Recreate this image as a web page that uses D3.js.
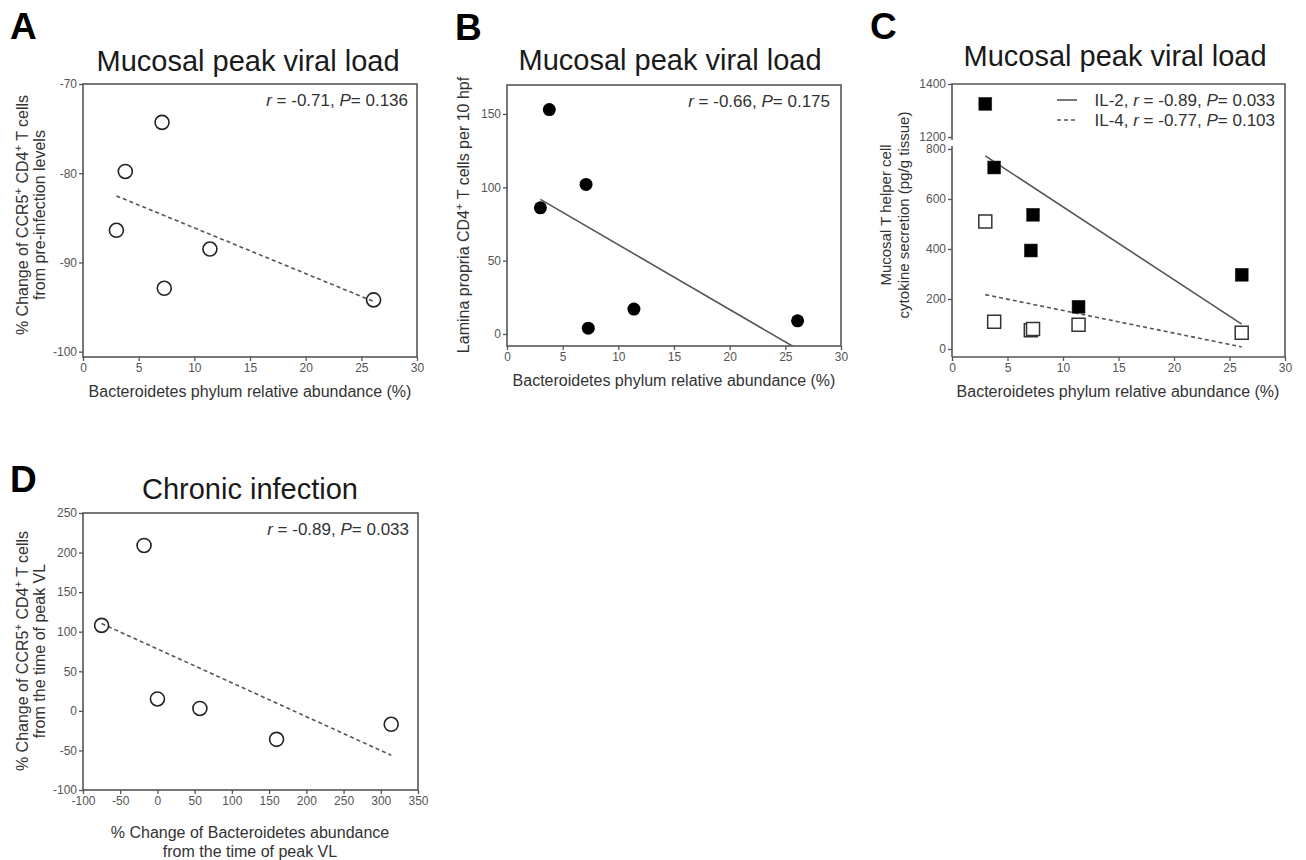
<!DOCTYPE html>
<html lang="en">
  <head>
    <meta charset="utf-8">
    <title>Bacteroidetes and CD4 T cells</title>
    <script src="https://d3js.org/d3.v7.min.js"></script>
    <style>
      body { margin: 0; background: #fff; }
      text { font-family: Arial, 'Liberation Sans', sans-serif; }
      .tick text { font-size: 12px; fill: #555; }
      .tick line { stroke: #555; stroke-width: 1.3; }
    </style>
  </head>
  <body>
    <div id="figure"></div>
    <script>
      // same six animals in every panel, sorted by Bacteroidetes abundance
      const bacteroidetes = [3.0, 3.8, 7.1, 7.3, 11.4, 26.1]
      const ccr5PeakChange = [-86.4, -79.8, -74.3, -92.9, -88.5, -94.2]
      const laminaCD4 = [86, 153, 102, 4, 17, 9]
      const il2 = [1325, 726, 394, 537, 169, 297]
      const il4 = [510, 109, 75, 80, 97, 65]

      const bacteroidetesChange = [-75, -18, 0, 57, 160, 314]
      const ccr5ChronicChange = [108, 209, 15, 3, -36, -17]

      const abundanceTicks = [0, 5, 10, 15, 20, 25, 30]
      const ticksA = [-100, -90, -80, -70]
      const ticksB = [0, 50, 100, 150]
      const ticksCLow = [0, 200, 400, 600, 800]
      const ticksCHigh = [1200, 1400]
      const ticksDx = [-100, -50, 0, 50, 100, 150, 200, 250, 300, 350]
      const ticksDy = [-100, -50, 0, 50, 100, 150, 200, 250]

      const svg = d3.select('#figure')
        .append('svg')
          .attr('width', 1306)
          .attr('height', 860)

      const grey = '#555'

      // least squares line between the smallest and largest x
      function fit(xs, ys) {
        const mx = d3.mean(xs), my = d3.mean(ys)
        const b = d3.sum(xs, (x, i) => (x - mx) * (ys[i] - my)) / d3.sum(xs, x => (x - mx) ** 2)
        const lo = d3.min(xs), hi = d3.max(xs)
        return [[lo, my + b * (lo - mx)], [hi, my + b * (hi - mx)]]
      }

      // text made of plain, italic and superscript parts
      function richText(parent, x, y, parts) {
        const t = parent.append('text').attr('x', x).attr('y', y)
        let up = 0
        parts.forEach(p => {
          const s = t.append('tspan')
          if (typeof p === 'string') {
            s.text(p).attr('dy', -up)
            up = 0
          } else if (p.sup) {
            s.text(p.sup).attr('font-size', '70%').attr('dy', -6 - up)
            up = -6
          } else if (p.i) {
            s.text(p.i).attr('font-style', 'italic').attr('dy', -up)
            up = 0
          }
        })
        return t
      }

      function label(x, y, size, parts, rotate) {
        const g = svg.append('g')
          .attr('transform', `translate(${x},${y})` + (rotate ? ' rotate(-90)' : ''))
        return richText(g, 0, 0, parts)
          .attr('text-anchor', 'middle')
          .attr('font-size', size)
          .attr('fill', '#333')
      }

      function letter(x, y, s) {
        svg.append('text').attr('x', x).attr('y', y)
          .attr('font-size', 37).attr('font-weight', 'bold').attr('fill', '#000')
          .text(s)
      }

      function title(x, y, s) {
        svg.append('text').attr('x', x).attr('y', y)
          .attr('text-anchor', 'middle').attr('font-size', 29).attr('fill', '#1a1a1a')
          .text(s)
      }

      function stat(x, y, r, p) {
        richText(svg, x, y, [{ i: 'r' }, ' = ' + r + ', ', { i: 'P' }, '= ' + p])
          .attr('text-anchor', 'end').attr('font-size', 17).attr('fill', '#333')
      }

      function tidy(a) {
        a.select('.domain').remove()
        a.attr('font-size', null).attr('font-family', null)
      }

      function frame(box) {
        svg.append('rect')
          .attr('x', box.left).attr('y', box.top)
          .attr('width', box.right - box.left).attr('height', box.bottom - box.top)
          .attr('fill', 'none').attr('stroke', grey).attr('stroke-width', 1.6)
      }

      function clipFor(id, box) {
        svg.append('clipPath').attr('id', id)
          .append('rect')
            .attr('x', box.left).attr('y', box.top)
            .attr('width', box.right - box.left).attr('height', box.bottom - box.top)
        return `url(#${id})`
      }

      function xAxis(x, y0, ticks) {
        svg.append('g')
          .attr('transform', `translate(0,${y0})`)
          .call(d3.axisBottom(x).tickValues(ticks).tickFormat(d => String(d)).tickSize(4).tickPadding(2))
          .call(tidy)
      }

      function yAxis(y, x0, ticks) {
        svg.append('g')
          .attr('transform', `translate(${x0},0)`)
          .call(d3.axisLeft(y).tickValues(ticks).tickFormat(d => String(d)).tickSize(4).tickPadding(2))
          .call(tidy)
      }

      function fitLine(x, y, xs, ys, dashed, clip) {
        svg.append('path')
          .attr('d', d3.line().x(d => x(d[0])).y(d => y(d[1]))(fit(xs, ys)))
          .attr('fill', 'none').attr('stroke', grey).attr('stroke-width', 1.6)
          .attr('stroke-dasharray', dashed ? '4,3' : null)
          .attr('clip-path', clip || null)
      }

      function circles(x, y, xs, ys, filled) {
        svg.append('g').selectAll('circle')
          .data(xs)
          .join('circle')
            .attr('cx', d => x(d))
            .attr('cy', (d, i) => y(ys[i]))
            .attr('r', filled ? 6.5 : 7)
            .attr('fill', filled ? '#000' : 'none')
            .attr('stroke', '#222')
            .attr('stroke-width', filled ? 0 : 1.6)
      }

      function squares(x, y, xs, ys, filled) {
        svg.append('g').selectAll('rect')
          .data(xs)
          .join('rect')
            .attr('x', d => x(d) - 6.5)
            .attr('y', (d, i) => y(ys[i]) - 6.5)
            .attr('width', 13).attr('height', 13)
            .attr('fill', filled ? '#000' : '#fff')
            .attr('stroke', '#333')
            .attr('stroke-width', filled ? 0.5 : 1.5)
      }

      const supPlus = { sup: '+' }
      const ccr5Line = ['% Change of CCR5', supPlus, ' CD4', supPlus, ' T cells']

      // ---------- A ----------
      const boxA = { left: 83, right: 417, top: 84, bottom: 357 }
      const xA = d3.scaleLinear().domain([0, 30]).range([boxA.left, boxA.right])
      const yA = d3.scaleLinear().domain([-100.6, -70]).range([boxA.bottom, boxA.top])
      xAxis(xA, boxA.bottom, abundanceTicks)
      yAxis(yA, boxA.left, ticksA)
      frame(boxA)
      fitLine(xA, yA, bacteroidetes, ccr5PeakChange, true)
      circles(xA, yA, bacteroidetes, ccr5PeakChange, false)
      letter(10, 39, 'A')
      title(248, 71, 'Mucosal peak viral load')
      stat(408, 106, '-0.71', '0.136')
      label(28, 215, 16, ccr5Line, true)
      label(45, 215, 16, ['from pre-infection levels'], true)
      label(250, 397, 16, ['Bacteroidetes phylum relative abundance (%)'])

      // ---------- B ----------
      const boxB = { left: 507, right: 841, top: 85, bottom: 346 }
      const xB = d3.scaleLinear().domain([0, 30]).range([boxB.left, boxB.right])
      const yB = d3.scaleLinear().domain([0, 150]).range([334, 114])
      xAxis(xB, boxB.bottom, abundanceTicks)
      yAxis(yB, boxB.left, ticksB)
      frame(boxB)
      fitLine(xB, yB, bacteroidetes, laminaCD4, false, clipFor('clipB', boxB))
      circles(xB, yB, bacteroidetes, laminaCD4, true)
      letter(455, 40, 'B')
      title(670, 70, 'Mucosal peak viral load')
      stat(830, 107, '-0.66', '0.175')
      label(469, 215, 16, ['Lamina propria CD4', supPlus, ' T cells per 10 hpf'], true)
      label(674, 386, 16, ['Bacteroidetes phylum relative abundance (%)'])

      // ---------- C (broken y axis) ----------
      const boxC = { left: 952, right: 1285, top: 84, bottom: 357 }
      const xC = d3.scaleLinear().domain([0, 30]).range([boxC.left, boxC.right])
      const yCLow = d3.scaleLinear().domain([0, 800]).range([349, 149])
      const yCHigh = d3.scaleLinear().domain([1200, 1400]).range([137, 84])
      const yC = v => v > 1000 ? yCHigh(v) : yCLow(v)
      xAxis(xC, boxC.bottom, abundanceTicks)
      yAxis(yCLow, boxC.left, ticksCLow)
      yAxis(yCHigh, boxC.left, ticksCHigh)
      svg.append('path')
        .attr('d', `M${boxC.left},${boxC.bottom}V146M${boxC.left},140V${boxC.top}H${boxC.right}V${boxC.bottom}H${boxC.left}`)
        .attr('fill', 'none').attr('stroke', grey).attr('stroke-width', 1.6)
      fitLine(xC, yCLow, bacteroidetes, il2, false)
      fitLine(xC, yCLow, bacteroidetes, il4, true)
      squares(xC, yC, bacteroidetes, il4, false)
      squares(xC, yC, bacteroidetes, il2, true)
      letter(870, 39, 'C')
      title(1115, 66, 'Mucosal peak viral load')
      svg.append('path').attr('d', 'M1057,100H1077')
        .attr('stroke', grey).attr('stroke-width', 1.6)
      svg.append('path').attr('d', 'M1057,120H1077')
        .attr('stroke', grey).attr('stroke-width', 1.6).attr('stroke-dasharray', '4,3')
      richText(svg, 1275, 106, ['IL-2, ', { i: 'r' }, ' = -0.89, ', { i: 'P' }, '= 0.033'])
        .attr('text-anchor', 'end').attr('font-size', 17).attr('fill', '#333')
      richText(svg, 1275, 126, ['IL-4, ', { i: 'r' }, ' = -0.77, ', { i: 'P' }, '= 0.103'])
        .attr('text-anchor', 'end').attr('font-size', 17).attr('fill', '#333')
      label(891, 215, 15, ['Mucosal T helper cell'], true)
      label(909, 215, 15, ['cytokine secretion (pg/g tissue)'], true)
      label(1118, 397, 16, ['Bacteroidetes phylum relative abundance (%)'])

      // ---------- D ----------
      const boxD = { left: 83, right: 418, top: 513, bottom: 790 }
      const xD = d3.scaleLinear().domain([-100, 350]).range([boxD.left, boxD.right])
      const yD = d3.scaleLinear().domain([-100, 250]).range([boxD.bottom, boxD.top])
      xAxis(xD, boxD.bottom, ticksDx)
      yAxis(yD, boxD.left, ticksDy)
      frame(boxD)
      fitLine(xD, yD, bacteroidetesChange, ccr5ChronicChange, true)
      circles(xD, yD, bacteroidetesChange, ccr5ChronicChange, false)
      letter(10, 492, 'D')
      title(250, 499, 'Chronic infection')
      stat(409, 535, '-0.89', '0.033')
      label(28, 651, 16, ccr5Line, true)
      label(45, 651, 16, ['from the time of peak VL'], true)
      label(250, 838, 16, ['% Change of Bacteroidetes abundance'])
      label(250, 857, 16, ['from the time of peak VL'])
    </script>
  </body>
</html>
